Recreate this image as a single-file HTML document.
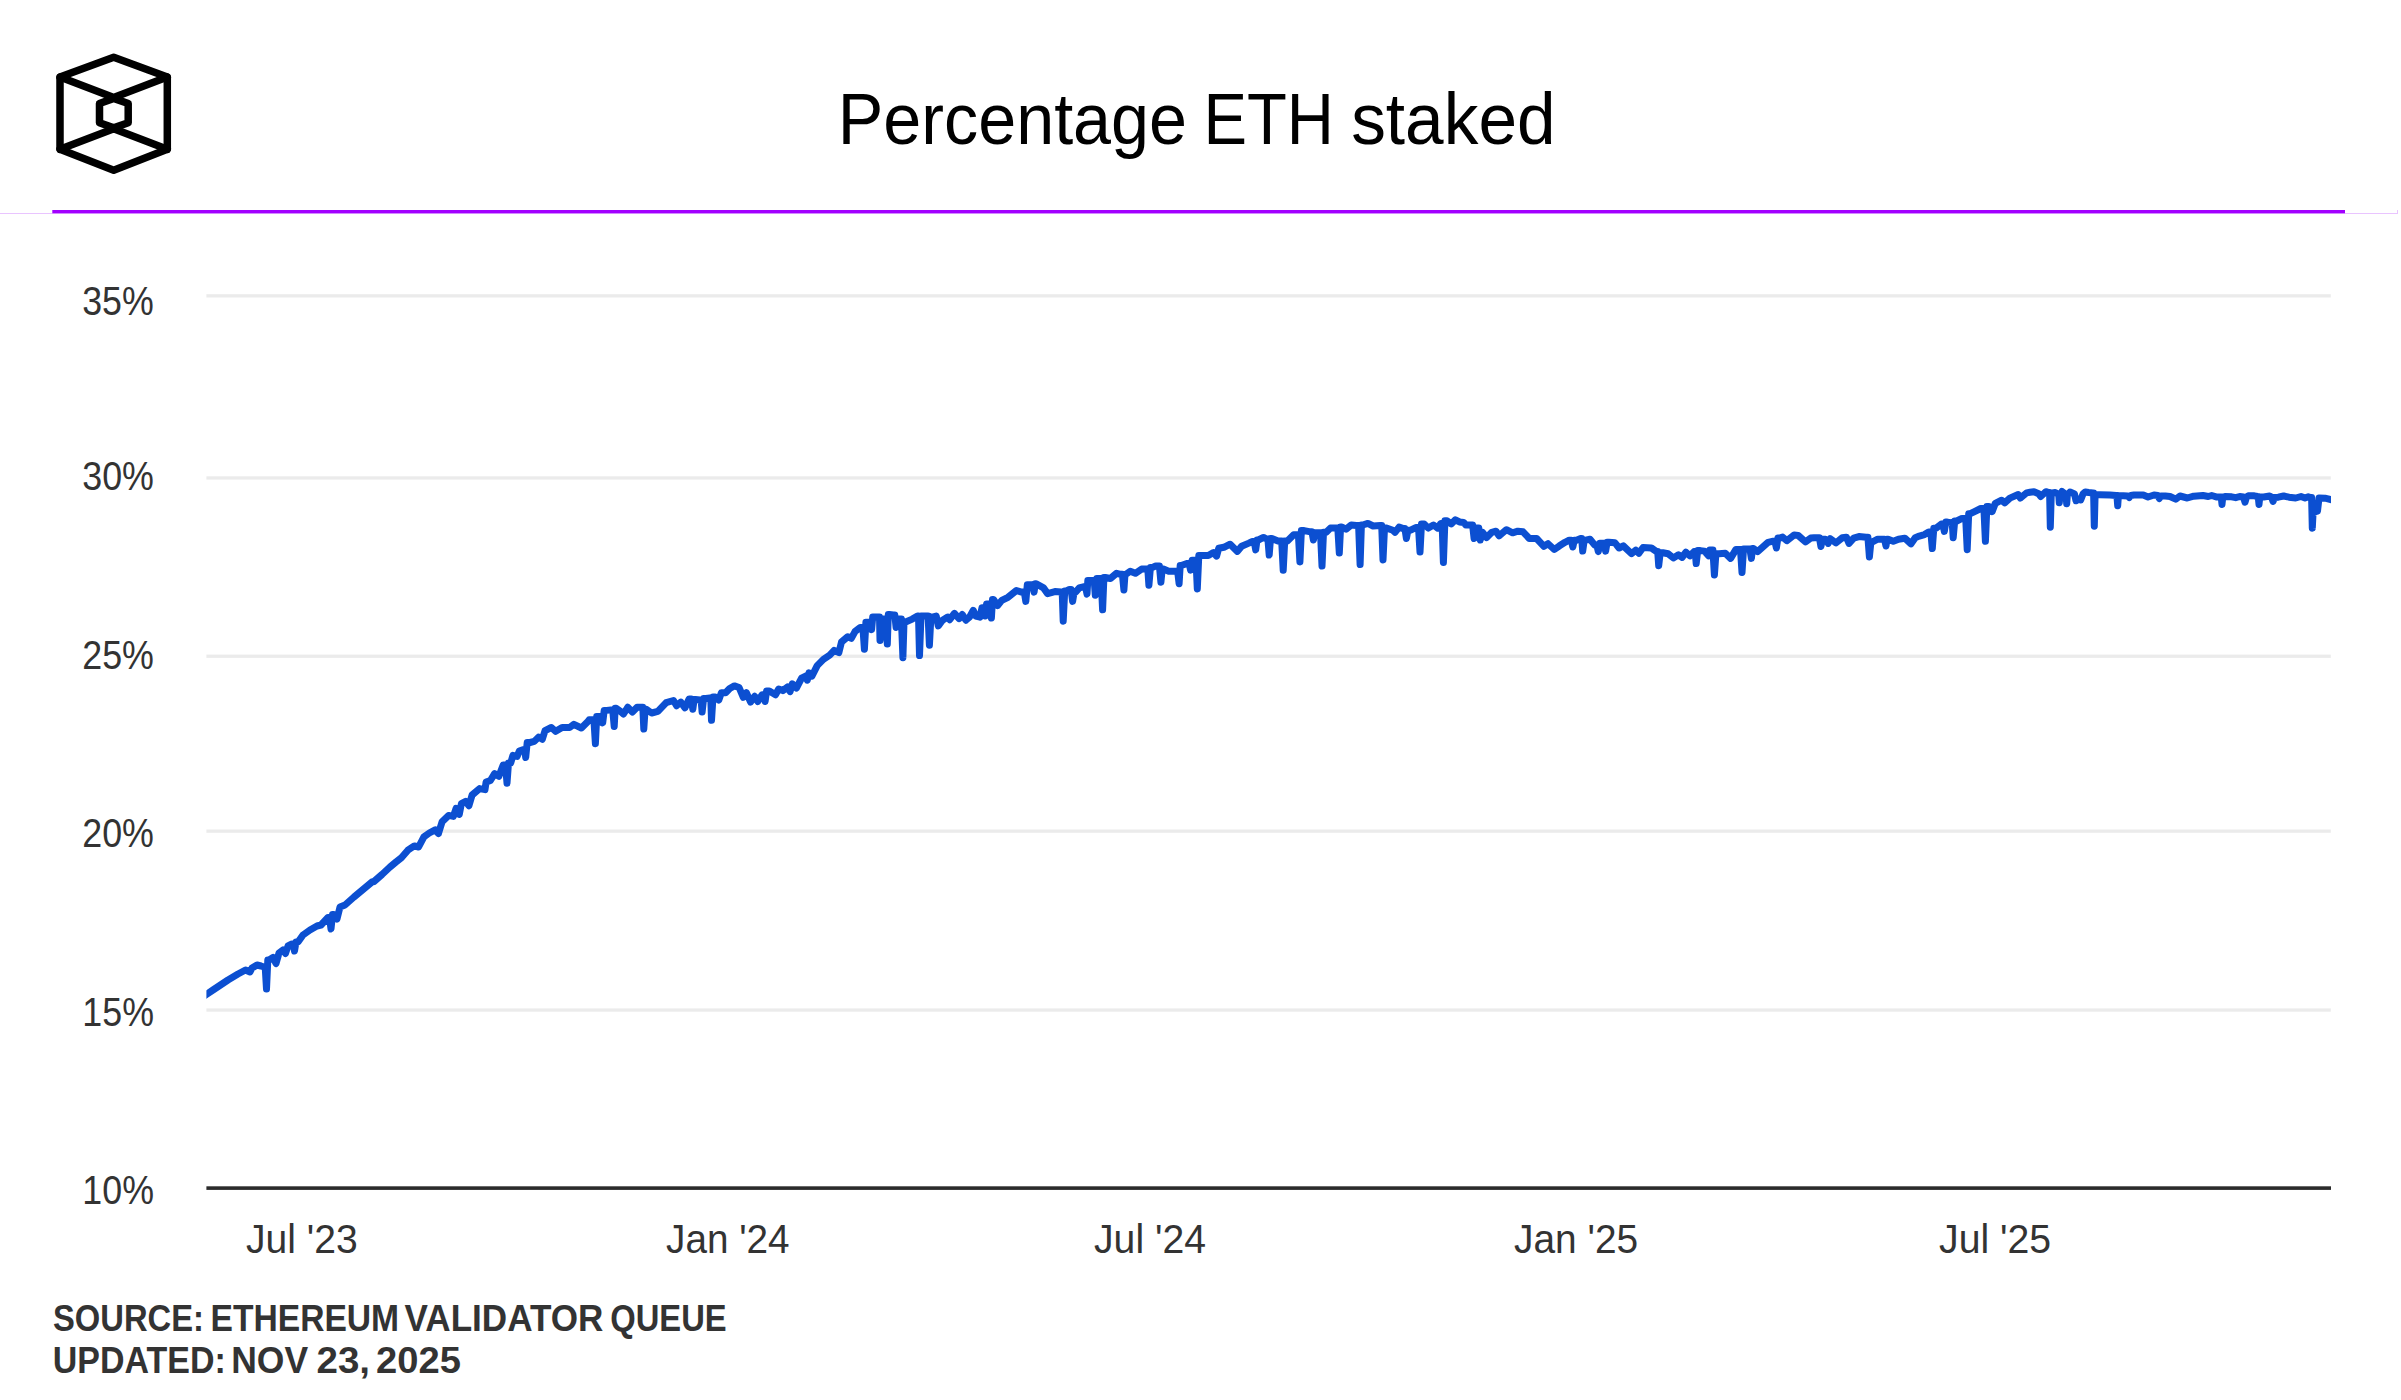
<!DOCTYPE html>
<html><head><meta charset="utf-8"><title>Percentage ETH staked</title>
<style>
html,body{margin:0;padding:0;background:#fff;width:2401px;height:1400px;overflow:hidden;}
svg{display:block;}
text{font-family:"Liberation Sans", sans-serif;}
</style></head><body>
<svg width="2401" height="1400" viewBox="0 0 2401 1400">
<rect x="0" y="0" width="2401" height="1400" fill="#ffffff"/>

<g fill="none" stroke="#000" stroke-width="7.5" stroke-linejoin="round" stroke-linecap="round">
<path d="M113.7,57.2 L167.3,77 L167.3,149.3 L113.7,170.2 L60,149.3 L60,77 Z"/>
<path d="M60,77 L113.7,97.5 L167.3,77"/>
<path d="M60,149.3 L113.7,128.7 L167.3,149.3"/>
<path d="M113.7,98.4 L128.2,103.5 L128.2,122.8 L113.7,127.9 L99.5,122.8 L99.5,103.5 Z"/>
</g>
<rect x="0" y="213" width="2398" height="1" fill="#e9c4ff"/>
<rect x="2397" y="210" width="1" height="4" fill="#e9c4ff"/>
<rect x="52.3" y="210" width="2292.7" height="3.3" fill="#a200ff"/>
<rect x="206.4" y="294.2" width="2124.4" height="3.3" fill="#ebebeb"/>
<rect x="206.4" y="476.3" width="2124.4" height="3.3" fill="#ebebeb"/>
<rect x="206.4" y="654.6" width="2124.4" height="3.3" fill="#ebebeb"/>
<rect x="206.4" y="829.5" width="2124.4" height="3.3" fill="#ebebeb"/>
<rect x="206.4" y="1008.4" width="2124.4" height="3.3" fill="#ebebeb"/>
<rect x="206.4" y="1186.3" width="2124.6" height="3.6" fill="#2b2b2b"/>
<text transform="translate(837.74,143.90) scale(0.9514,1.0000)" font-size="71.8" fill="#000">Percentage</text>
<text transform="translate(1203.38,143.90) scale(0.9087,1.0000)" font-size="71.8" fill="#000">ETH</text>
<text transform="translate(1351.14,143.90) scale(0.9664,1.0000)" font-size="71.8" fill="#000">staked</text>
<text transform="translate(53.01,1331.40) scale(0.8872,1.0000)" font-size="36.9" font-weight="bold" fill="#333">SOURCE:</text>
<text transform="translate(210.56,1331.40) scale(0.9109,1.0000)" font-size="36.9" font-weight="bold" fill="#333">ETHEREUM</text>
<text transform="translate(404.54,1331.40) scale(0.9513,1.0000)" font-size="36.9" font-weight="bold" fill="#333">VALIDATOR</text>
<text transform="translate(610.22,1331.40) scale(0.8875,1.0000)" font-size="36.9" font-weight="bold" fill="#333">QUEUE</text>
<text transform="translate(52.74,1372.60) scale(0.9210,1.0000)" font-size="36.9" font-weight="bold" fill="#333">UPDATED:</text>
<text transform="translate(231.23,1372.60) scale(0.9614,1.0000)" font-size="36.9" font-weight="bold" fill="#333">NOV</text>
<text transform="translate(316.51,1372.60) scale(1.0436,1.0000)" font-size="36.9" font-weight="bold" fill="#333">23,</text>
<text transform="translate(376.12,1372.60) scale(1.0331,1.0000)" font-size="36.9" font-weight="bold" fill="#333">2025</text>
<text transform="translate(82.24,315.30) scale(0.8850,1.0000)" font-size="40.4" fill="#333">35%</text>
<text transform="translate(82.23,490.20) scale(0.8872,1.0000)" font-size="40.4" fill="#333">30%</text>
<text transform="translate(82.23,668.90) scale(0.8872,1.0000)" font-size="40.4" fill="#333">25%</text>
<text transform="translate(82.23,846.90) scale(0.8872,1.0000)" font-size="40.4" fill="#333">20%</text>
<text transform="translate(82.34,1025.80) scale(0.8857,1.0000)" font-size="40.4" fill="#333">15%</text>
<text transform="translate(82.34,1204.40) scale(0.8857,1.0000)" font-size="40.4" fill="#333">10%</text>
<text transform="translate(246.03,1252.70) scale(0.9671,1.0000)" font-size="40.4" fill="#333">Jul &#39;23</text>
<text transform="translate(666.04,1252.70) scale(0.9580,1.0000)" font-size="40.4" fill="#333">Jan &#39;24</text>
<text transform="translate(1094.03,1252.70) scale(0.9700,1.0000)" font-size="40.4" fill="#333">Jul &#39;24</text>
<text transform="translate(1514.04,1252.70) scale(0.9628,1.0000)" font-size="40.4" fill="#333">Jan &#39;25</text>
<text transform="translate(1939.03,1252.70) scale(0.9706,1.0000)" font-size="40.4" fill="#333">Jul &#39;25</text>
<defs><clipPath id="plot"><rect x="206.4" y="220" width="2124.6" height="970"/></clipPath></defs>
<path d="M200.5,998.7 L206.5,994.5 L213.0,990.0 L228.0,980.0 L238.0,974.0 L245.5,970.0 L250.0,972.0 L252.0,968.0 L257.0,965.0 L261.0,966.0 L264.0,967.0 L265.2,967.0 L266.5,989.0 L267.8,960.0 L269.0,960.0 L273.0,957.5 L276.0,963.5 L279.0,953.0 L283.0,950.0 L285.5,953.5 L288.0,946.0 L292.0,944.0 L293.2,944.0 L294.5,951.0 L296.0,942.0 L298.0,942.0 L303.0,935.0 L310.0,930.0 L317.0,926.0 L321.0,925.0 L328.0,917.5 L329.5,917.5 L331.0,929.0 L332.5,914.5 L334.0,914.5 L337.0,919.0 L340.0,907.0 L345.0,905.0 L354.0,897.0 L360.0,892.0 L372.0,882.0 L374.0,881.5 L382.0,874.5 L390.0,867.0 L396.0,862.0 L401.4,857.7 L407.9,850.2 L414.3,845.9 L418.6,847.0 L423.9,836.8 L429.3,833.0 L435.2,829.8 L438.4,833.6 L442.1,821.8 L448.6,815.4 L453.4,816.4 L456.1,808.4 L459.3,814.3 L461.4,803.6 L465.7,801.4 L468.9,805.7 L472.1,795.0 L479.6,788.6 L485.0,789.6 L486.1,782.1 L490.4,780.5 L494.6,773.6 L498.9,776.3 L503.2,765.0 L505.5,765.0 L507.0,783.2 L508.5,762.9 L510.7,762.9 L512.9,755.4 L517.1,756.4 L519.3,751.1 L523.6,749.5 L524.7,749.5 L525.7,757.5 L527.2,742.5 L530.0,742.5 L534.3,741.4 L538.6,737.1 L542.3,739.3 L545.0,730.7 L551.4,727.5 L555.7,731.3 L562.1,727.5 L569.6,727.5 L573.9,724.3 L581.4,728.0 L587.9,721.6 L589.2,719.8 L592.3,719.8 L593.9,719.8 L595.4,743.7 L596.7,716.6 L598.0,716.6 L600.6,716.6 L601.7,716.6 L602.7,722.9 L604.2,710.4 L606.9,710.4 L611.0,709.9 L612.7,709.9 L614.2,726.5 L615.2,708.3 L616.2,708.3 L620.4,711.4 L623.5,714.0 L627.7,707.3 L632.4,712.0 L637.1,707.3 L641.7,707.3 L642.8,707.3 L643.8,729.1 L645.1,709.3 L646.4,709.3 L651.6,713.0 L657.9,711.4 L666.2,702.6 L673.5,700.5 L676.6,705.7 L680.8,702.1 L685.0,707.8 L689.1,698.9 L691.3,698.9 L692.8,709.3 L694.1,699.5 L695.4,699.5 L700.1,700.0 L701.1,700.0 L702.1,712.0 L703.6,698.4 L705.8,698.4 L710.0,697.9 L710.8,697.9 L711.5,720.3 L713.0,696.9 L715.2,696.9 L718.8,700.0 L721.4,692.7 L725.6,692.7 L729.7,688.5 L734.4,685.9 L739.1,687.5 L743.3,697.4 L746.4,692.7 L750.6,702.1 L754.7,696.3 L757.8,701.5 L762.0,694.8 L763.6,694.8 L765.1,701.5 L766.6,691.1 L769.3,691.1 L775.5,694.8 L778.7,689.0 L782.8,690.6 L787.5,687.0 L790.1,691.6 L792.2,683.8 L796.4,688.0 L801.6,678.1 L805.7,676.0 L807.3,680.2 L808.9,672.9 L812.0,676.0 L817.2,665.6 L823.4,659.4 L829.7,655.2 L834.2,650.4 L838.9,652.5 L841.5,642.0 L847.7,636.8 L851.3,638.4 L855.0,631.6 L860.2,627.5 L862.9,627.5 L864.4,649.3 L865.9,622.3 L867.5,622.3 L870.1,622.3 L871.6,629.6 L872.7,617.1 L873.7,617.1 L878.9,617.1 L879.5,617.1 L880.0,640.5 L881.5,619.1 L883.1,619.1 L885.8,619.1 L887.3,644.1 L888.3,614.5 L889.3,614.5 L893.5,615.0 L894.8,615.0 L896.1,627.5 L897.6,619.1 L899.2,619.1 L901.4,619.1 L902.9,657.7 L904.0,622.3 L905.0,622.3 L912.3,619.1 L917.5,616.0 L918.5,616.0 L919.5,655.6 L921.0,616.0 L923.7,616.0 L926.8,616.0 L928.1,616.0 L929.4,645.2 L930.9,617.1 L932.6,617.1 L936.2,616.0 L938.3,625.9 L942.5,620.2 L947.7,617.1 L949.7,619.7 L954.4,613.4 L959.1,618.6 L962.2,614.5 L965.9,620.2 L969.5,617.1 L973.2,610.3 L975.8,616.0 L980.0,617.1 L982.0,607.7 L983.6,607.7 L985.1,616.0 L986.6,604.0 L988.3,604.0 L989.9,604.0 L991.4,618.1 L992.5,599.4 L993.5,599.4 L997.6,605.6 L1001.8,600.4 L1008.0,597.3 L1016.4,590.5 L1021.6,592.1 L1024.3,592.1 L1025.8,601.4 L1027.3,584.8 L1029.9,584.8 L1032.6,584.8 L1034.1,592.1 L1035.2,583.7 L1036.2,583.7 L1043.5,587.9 L1047.6,593.6 L1054.9,591.6 L1061.2,592.1 L1062.2,592.1 L1063.2,621.2 L1064.7,591.0 L1066.4,591.0 L1069.5,589.5 L1071.1,589.5 L1072.6,601.4 L1074.1,592.1 L1075.7,592.1 L1079.2,587.9 L1083.3,586.8 L1085.5,586.8 L1087.0,594.1 L1087.8,580.6 L1088.5,580.6 L1093.2,580.6 L1094.2,580.6 L1095.3,595.2 L1096.8,578.5 L1098.4,578.5 L1101.1,578.5 L1102.6,609.8 L1103.9,577.5 L1105.2,577.5 L1110.4,578.5 L1116.6,573.3 L1120.8,574.3 L1122.4,574.3 L1123.9,590.0 L1125.0,574.3 L1126.0,574.3 L1130.2,571.2 L1135.4,573.3 L1141.6,569.1 L1146.8,569.1 L1147.8,569.1 L1148.9,585.3 L1150.4,567.6 L1152.0,567.6 L1155.7,566.0 L1159.4,566.0 L1160.9,582.2 L1162.2,569.1 L1163.5,569.1 L1168.7,571.2 L1173.9,571.2 L1177.6,571.2 L1179.1,583.7 L1180.2,565.5 L1181.2,565.5 L1187.5,563.4 L1189.1,563.4 L1190.6,570.2 L1192.1,560.3 L1194.7,560.3 L1196.0,560.3 L1197.3,588.9 L1198.8,555.6 L1202.0,555.6 L1208.3,555.6 L1213.5,552.5 L1216.6,556.1 L1218.7,548.3 L1223.9,547.3 L1230.1,544.2 L1237.4,551.4 L1241.6,546.2 L1248.9,543.1 L1252.0,541.6 L1254.2,541.6 L1255.7,549.9 L1257.0,540.0 L1258.3,540.0 L1263.5,537.4 L1266.6,539.0 L1267.9,539.0 L1269.2,555.1 L1270.5,538.4 L1271.8,538.4 L1278.0,541.0 L1281.7,541.0 L1283.2,570.2 L1284.7,541.0 L1287.4,541.0 L1293.7,534.8 L1298.4,534.8 L1299.9,561.9 L1301.4,530.6 L1304.1,530.6 L1309.3,531.7 L1311.9,531.7 L1313.4,540.0 L1314.9,532.7 L1317.6,532.7 L1320.5,532.7 L1322.0,566.0 L1323.5,532.3 L1326.2,532.3 L1330.4,528.1 L1335.6,528.1 L1337.8,528.1 L1339.3,553.1 L1340.6,527.1 L1341.9,527.1 L1346.0,529.2 L1351.2,525.0 L1356.4,525.5 L1358.6,525.5 L1360.1,564.6 L1361.4,525.0 L1362.7,525.0 L1367.9,523.4 L1373.1,526.0 L1380.4,525.5 L1381.7,525.5 L1383.0,559.9 L1384.5,528.1 L1386.6,528.1 L1392.9,530.2 L1395.0,532.3 L1399.1,527.1 L1403.3,528.6 L1404.9,528.6 L1406.4,538.5 L1407.9,530.2 L1410.6,530.2 L1415.8,527.6 L1418.5,527.6 L1420.0,552.1 L1421.5,523.9 L1424.1,523.9 L1428.3,528.1 L1433.5,525.0 L1437.7,528.1 L1440.8,523.4 L1442.1,523.4 L1443.4,562.5 L1444.9,520.8 L1447.0,520.8 L1451.2,523.9 L1455.4,519.8 L1459.5,521.9 L1463.7,522.4 L1465.8,525.0 L1471.0,525.0 L1472.6,525.0 L1474.1,538.5 L1475.6,528.1 L1477.2,528.1 L1478.8,528.1 L1480.3,540.1 L1481.3,532.3 L1482.4,532.3 L1486.6,537.5 L1491.8,532.3 L1496.0,531.2 L1499.1,535.9 L1506.4,529.7 L1512.6,532.8 L1517.8,531.2 L1523.0,531.8 L1529.3,538.5 L1536.6,538.5 L1543.9,546.3 L1548.0,543.7 L1554.3,549.5 L1559.5,545.8 L1565.0,542.3 L1569.2,540.2 L1571.3,540.2 L1572.8,547.0 L1574.3,540.2 L1576.5,540.2 L1580.6,538.6 L1581.7,538.6 L1582.7,551.1 L1584.2,540.2 L1585.8,540.2 L1590.0,539.2 L1594.7,544.9 L1596.8,544.9 L1598.3,551.6 L1599.8,543.3 L1601.4,543.3 L1604.1,543.3 L1605.6,551.1 L1607.1,542.3 L1608.7,542.3 L1615.0,542.8 L1619.1,548.0 L1623.3,545.9 L1631.6,553.7 L1635.8,550.1 L1638.9,553.2 L1643.1,547.5 L1651.4,548.0 L1656.6,551.6 L1657.7,551.6 L1658.7,565.7 L1660.2,552.7 L1662.9,552.7 L1668.1,553.7 L1673.3,557.9 L1678.5,554.8 L1682.1,557.4 L1685.8,552.2 L1690.0,555.8 L1694.1,551.6 L1695.2,551.6 L1696.2,563.6 L1697.7,550.6 L1700.4,550.6 L1704.5,551.1 L1708.7,555.8 L1709.7,550.1 L1712.9,550.1 L1714.4,575.1 L1715.9,553.7 L1719.1,553.7 L1725.3,553.2 L1730.6,558.4 L1735.8,549.6 L1738.9,549.6 L1740.5,549.6 L1742.0,572.5 L1743.5,549.0 L1746.2,549.0 L1749.9,549.0 L1751.4,558.4 L1752.5,548.5 L1753.5,548.5 L1757.6,551.6 L1768.0,542.3 L1773.2,541.2 L1774.9,541.2 L1776.4,548.0 L1777.9,538.1 L1779.5,538.1 L1782.6,537.1 L1786.8,540.7 L1794.1,535.0 L1798.2,535.5 L1805.5,541.8 L1810.7,538.1 L1814.2,537.7 L1819.4,537.7 L1820.9,546.5 L1822.4,539.2 L1825.6,539.2 L1828.2,543.4 L1830.3,538.7 L1836.0,542.9 L1842.3,537.7 L1846.4,537.2 L1849.0,543.4 L1853.7,538.2 L1858.9,536.6 L1866.2,537.2 L1867.9,537.2 L1869.4,556.9 L1870.9,541.8 L1872.5,541.8 L1877.7,539.2 L1881.8,539.2 L1884.5,539.2 L1886.0,546.0 L1887.0,539.2 L1888.1,539.2 L1893.3,541.3 L1898.5,539.2 L1904.8,538.2 L1911.0,543.9 L1915.2,537.7 L1919.3,536.1 L1924.5,534.6 L1928.7,532.0 L1930.8,532.0 L1932.3,548.6 L1933.8,528.3 L1936.0,528.3 L1941.2,524.1 L1942.8,524.1 L1944.3,531.4 L1945.8,522.1 L1947.4,522.1 L1951.1,522.6 L1952.2,522.6 L1953.2,537.7 L1954.7,521.0 L1956.8,521.0 L1962.0,518.4 L1965.7,518.4 L1967.2,549.7 L1968.7,513.7 L1970.3,513.7 L1974.5,511.6 L1980.8,508.5 L1983.9,508.5 L1985.4,541.3 L1986.9,506.4 L1989.1,506.4 L1992.2,511.6 L1995.3,503.3 L2001.6,500.2 L2004.7,502.8 L2009.9,498.1 L2018.2,494.5 L2020.3,498.1 L2026.6,492.9 L2030.0,492.3 L2034.0,491.7 L2038.7,493.7 L2040.7,496.5 L2046.0,491.7 L2048.8,492.5 L2049.6,492.5 L2050.3,527.2 L2051.3,493.0 L2052.3,493.0 L2055.3,492.5 L2058.0,494.0 L2058.7,494.0 L2059.3,502.8 L2060.1,494.0 L2060.8,494.0 L2062.0,491.5 L2065.3,494.0 L2066.0,494.0 L2066.7,503.8 L2067.4,494.0 L2068.2,494.0 L2070.0,492.0 L2074.5,494.0 L2076.0,500.8 L2078.0,499.0 L2080.7,500.0 L2083.0,494.0 L2085.3,492.0 L2088.7,492.5 L2092.8,493.0 L2093.6,493.0 L2094.3,526.2 L2095.1,494.5 L2095.8,494.5 L2100.0,494.7 L2110.0,495.0 L2116.2,495.5 L2116.9,495.5 L2117.7,505.8 L2118.4,495.8 L2119.2,495.8 L2123.3,495.8 L2127.8,496.0 L2129.3,497.5 L2130.8,495.5 L2134.0,495.0 L2143.3,495.0 L2148.0,497.0 L2154.0,495.0 L2157.8,495.5 L2159.3,498.5 L2160.8,496.0 L2165.3,496.0 L2170.0,496.5 L2175.7,499.2 L2180.0,496.0 L2187.3,498.0 L2193.7,496.2 L2203.0,495.5 L2208.3,496.5 L2211.7,495.5 L2217.0,497.1 L2220.5,497.0 L2221.2,497.0 L2222.0,504.5 L2222.8,497.0 L2223.5,497.0 L2225.0,496.5 L2231.7,496.8 L2235.7,497.7 L2239.7,496.5 L2243.5,497.0 L2245.0,502.2 L2246.5,497.0 L2248.3,495.8 L2254.3,495.8 L2257.5,496.5 L2258.2,496.5 L2259.0,504.5 L2259.8,497.0 L2260.5,497.0 L2263.7,497.0 L2269.7,496.0 L2271.5,497.0 L2273.0,501.5 L2274.5,497.5 L2278.3,497.2 L2283.7,496.0 L2289.0,497.2 L2295.7,498.0 L2301.0,496.5 L2305.0,498.0 L2308.3,496.8 L2310.8,497.5 L2311.6,497.5 L2312.3,528.2 L2313.1,512.0 L2313.8,512.0 L2317.5,511.0 L2319.0,498.0 L2325.0,498.2 L2330.7,499.5 L2336.7,500.9" fill="none" stroke="#0c4fd1" stroke-width="7" stroke-linejoin="round" stroke-linecap="round" clip-path="url(#plot)"/>
</svg></body></html>
